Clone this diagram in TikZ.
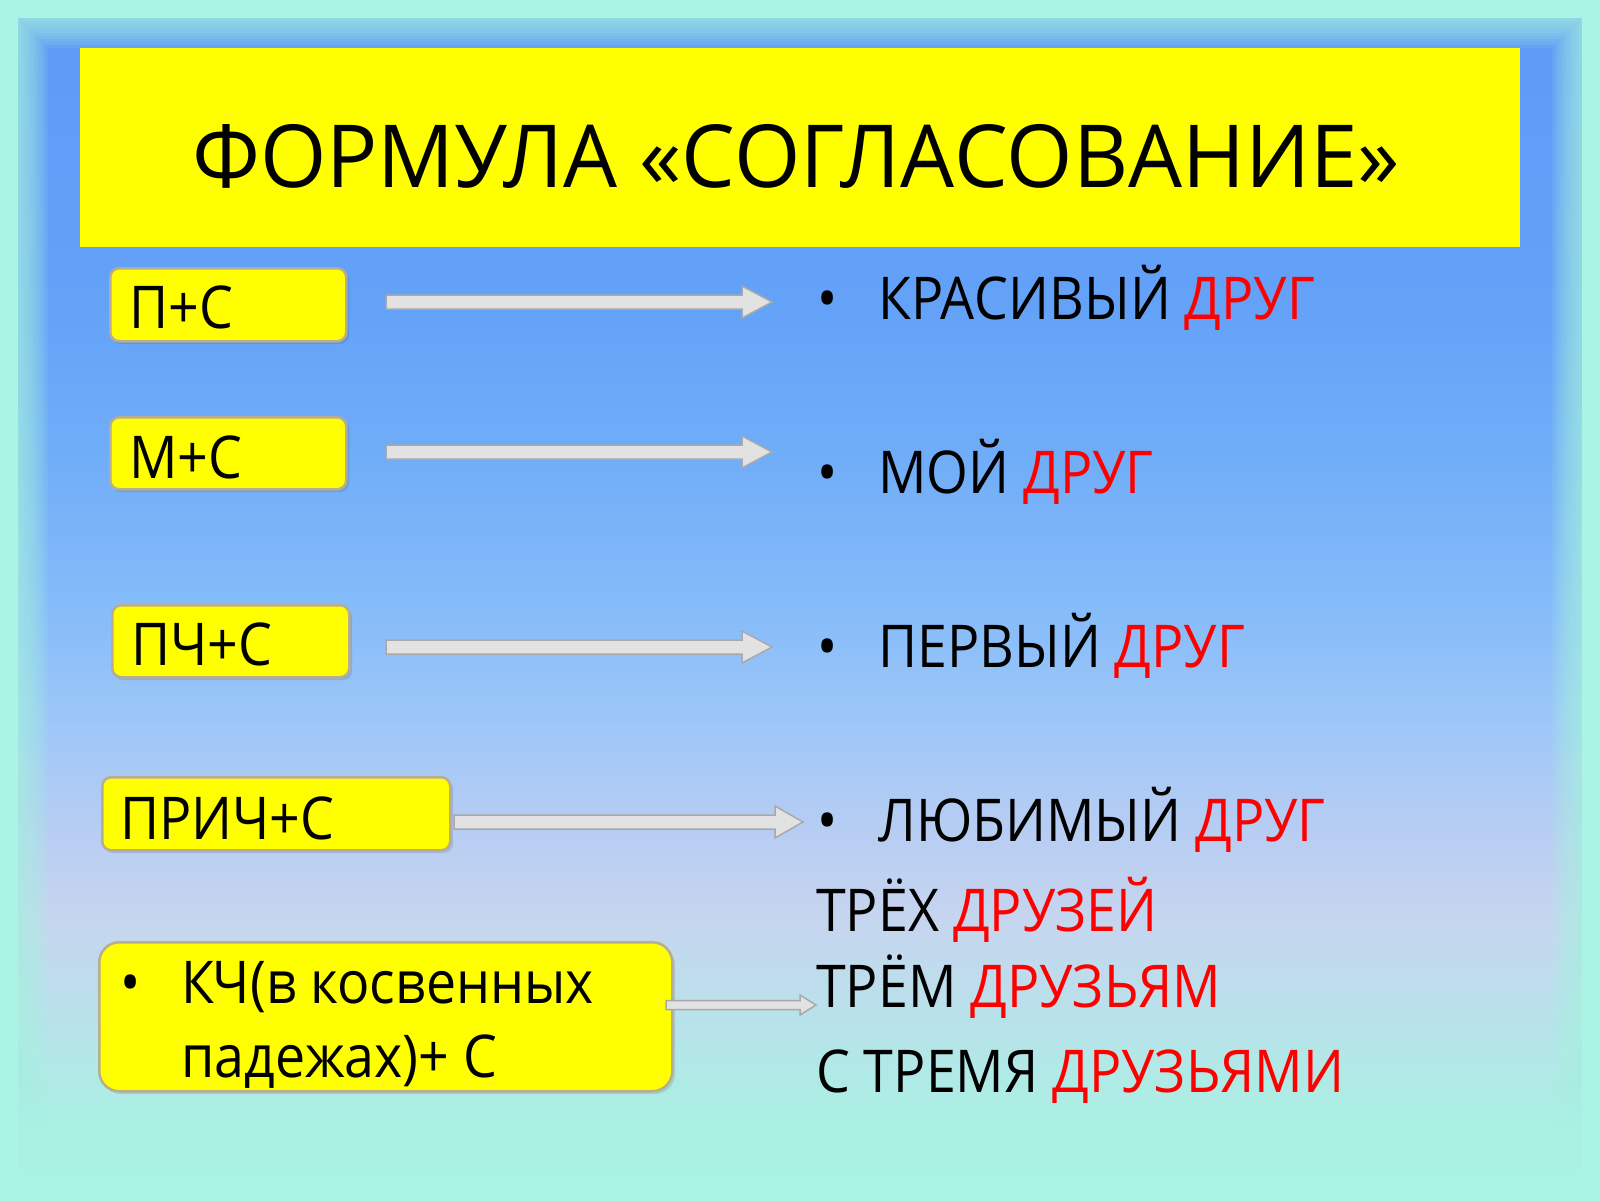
\documentclass[tikz,border=0pt]{standalone}
\usepackage{fontspec}
\setmainfont{Open Sans}
\newfontfamily\narrowfont[FakeStretch=0.91]{Open Sans}
\newfontfamily\titlefont[FakeStretch=0.98]{Open Sans}
\usetikzlibrary{calc}
\definecolor{aquabg}{HTML}{A9F4E2}
\definecolor{boxyellow}{HTML}{FFFF00}
\definecolor{boxedge}{HTML}{B9AD8F}
\definecolor{arrfill}{HTML}{E2E2E2}
\definecolor{arredge}{HTML}{A9A9A9}
\definecolor{redword}{HTML}{FF0000}
\definecolor{c0}{HTML}{A9F4E2}
\definecolor{c1}{HTML}{AAF0E3}
\definecolor{c2}{HTML}{B8E2EA}
\definecolor{c3}{HTML}{C6D5EF}
\definecolor{c4}{HTML}{B4CCF3}
\definecolor{c5}{HTML}{9CC6F8}
\definecolor{c6}{HTML}{86BCF9}
\definecolor{c7}{HTML}{70ADF8}
\definecolor{c8}{HTML}{64A2F8}
\definecolor{c9}{HTML}{5C9AF6}
\pgfdeclareverticalshading{bgsh}{100bp}{color(0bp)=(c0); color(25bp)=(c0); color(28.25bp)=(c1); color(32.5bp)=(c2); color(36.75bp)=(c3); color(41bp)=(c4); color(45.25bp)=(c5); color(49.5bp)=(c6); color(56bp)=(c7); color(62.25bp)=(c8); color(75bp)=(c9); color(100bp)=(c9)}
\newcommand\blockarr[5]{%
  \begin{scope}[shift={(3,4)}]
    \fill[black,opacity=.12] ($(#1)+(0,-#3)$) -- ($(#2)+(-#5,-#3)$) -- ($(#2)+(-#5,-#4)$) -- (#2) -- ($(#2)+(-#5,#4)$) -- ($(#2)+(-#5,#3)$) -- ($(#1)+(0,#3)$) -- cycle;
  \end{scope}
  \filldraw[arrowst] ($(#1)+(0,-#3)$) -- ($(#2)+(-#5,-#3)$) -- ($(#2)+(-#5,-#4)$) -- (#2) -- ($(#2)+(-#5,#4)$) -- ($(#2)+(-#5,#3)$) -- ($(#1)+(0,#3)$) -- cycle;}
\begin{document}
\begin{tikzpicture}[x=1pt,y=-1pt,
  arrowst/.style={fill=arrfill,draw=arredge,line width=1.5pt,line join=miter},
  ybox/.style={fill=boxyellow,draw=boxedge,line width=2.5pt,rounded corners=9pt,anchor=north west,inner sep=0pt},
  lbl/.style={anchor=base west,inner sep=0pt,font=\narrowfont\fontsize{59}{70}\selectfont},
  bul/.style={anchor=base,inner sep=0pt,font=\narrowfont\fontsize{59}{70}\selectfont}]
\useasboundingbox (0,0) rectangle (1600,1200);
% background
\shade[shading=bgsh] (0,0) rectangle (1600,1200);
\begin{scope}
  \clip (0,0) rectangle (1600,1200);
  \draw[aquabg,line width=36pt] (0,0) rectangle (1600,1200);
  \foreach \w in {42,48,54,60,66,72,78,84,90,96}
    \draw[aquabg,opacity=.11,line width=\w pt] (0,0) rectangle (1600,1200);
\end{scope}
% title
\node[fill=boxyellow,anchor=north west,inner sep=0pt,minimum width=1440pt,minimum height=199pt] (titlebox) at (80,48) {};
\node[anchor=base,inner sep=0pt,font=\titlefont\fontsize{87}{100}\selectfont] (title) at (796,187) {ФОРМУЛА «СОГЛАСОВАНИЕ»};
% left boxes
\fill[black,opacity=.10,rounded corners=9pt] (112,271) rectangle (349,344);
\node[ybox,minimum width=236pt,minimum height=73pt] (b1) at (109,267) {};
\node[lbl] (t1) at (129,328) {П+С};
\fill[black,opacity=.10,rounded corners=9pt] (112,420) rectangle (349,492);
\node[ybox,minimum width=236pt,minimum height=72pt] (b2) at (109,416) {};
\node[lbl] (t2) at (129,478) {М+С};
\fill[black,opacity=.10,rounded corners=9pt] (114,608) rectangle (352,680);
\node[ybox,minimum width=237pt,minimum height=72pt] (b3) at (111,604) {};
\node[lbl] (t3) at (131,665) {ПЧ+С};
\fill[black,opacity=.10,rounded corners=9pt] (104,780) rectangle (453,853);
\node[ybox,minimum width=348pt,minimum height=73pt] (b4) at (101,776) {};
\node[lbl] (t4) at (120,839) {ПРИЧ+С};
\fill[black,opacity=.10,rounded corners=20pt] (101,945) rectangle (675,1094);
\node[ybox,rounded corners=20pt,minimum width=573pt,minimum height=149pt] (b5) at (98,941) {};
\node[bul] (t5b) at (131,1003) {•};
\node[lbl] (t5a) at (181,1003) {КЧ(в косвенных};
\node[lbl] (t5c) at (181,1077) {падежах)+ С};
% right texts
\node[bul] (r1b) at (828,319) {•};
\node[lbl] (r1) at (878,319) {КРАСИВЫЙ \textcolor{redword}{ДРУГ}};
\node[bul] (r2b) at (828,493) {•};
\node[lbl] (r2) at (878,493) {МОЙ \textcolor{redword}{ДРУГ}};
\node[bul] (r3b) at (828,667) {•};
\node[lbl] (r3) at (878,667) {ПЕРВЫЙ \textcolor{redword}{ДРУГ}};
\node[bul] (r4b) at (828,841) {•};
\node[lbl] (r4) at (878,841) {ЛЮБИМЫЙ \textcolor{redword}{ДРУГ}};
\node[lbl] (r5) at (816,931) {ТРЁХ \textcolor{redword}{ДРУЗЕЙ}};
\node[lbl] (r6) at (816,1007) {ТРЁМ \textcolor{redword}{ДРУЗЬЯМ}};
\node[lbl] (r7) at (816,1092) {С ТРЕМЯ \textcolor{redword}{ДРУЗЬЯМИ}};
% arrows
\coordinate (a1s) at (386,302);
\coordinate (a1e) at (772,302);
\coordinate (a2s) at (386,452);
\coordinate (a2e) at (772,452);
\coordinate (a3s) at (386,647);
\coordinate (a3e) at (772,647);
\coordinate (a4s) at (454,822);
\coordinate (a4e) at (803,822);
\coordinate (a5s) at (666,1005);
\coordinate (a5e) at (816,1005);
\blockarr{a1s}{a1e}{7}{16}{30}
\blockarr{a2s}{a2e}{7}{16}{30}
\blockarr{a3s}{a3e}{7}{16}{30}
\blockarr{a4s}{a4e}{7}{16}{28}
\blockarr{a5s}{a5e}{4.5}{10}{16}
\end{tikzpicture}
\end{document}
